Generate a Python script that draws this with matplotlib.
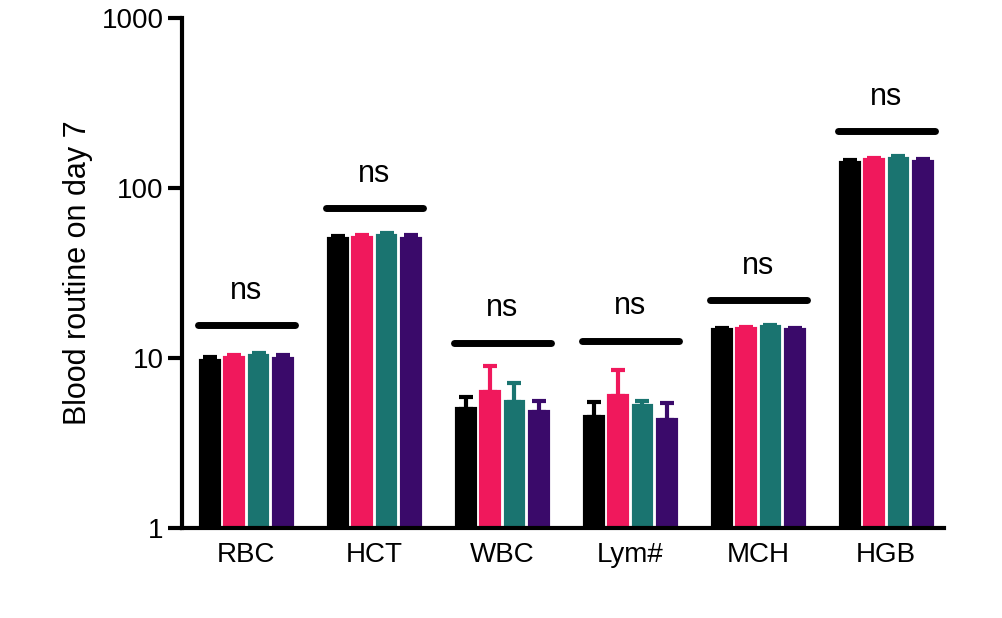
import matplotlib.pyplot as plt
import numpy as np

plt.rcParams['font.family'] = ['Liberation Sans', 'DejaVu Sans']

categories = ['RBC', 'HCT', 'WBC', 'Lym#', 'MCH', 'HGB']
means = {
    'g1': [9.6, 50, 5.0, 4.5, 14.5, 140],
    'g2': [10.0, 51, 6.3, 6.0, 14.8, 145],
    'g3': [10.2, 52, 5.5, 5.2, 15.2, 148],
    'g4': [9.8, 50, 4.8, 4.3, 14.6, 142],
}
errs = {
    'g1': [0.5, 2, 0.9, 1.0, 0.4, 6],
    'g2': [0.4, 2, 2.7, 2.5, 0.3, 4],
    'g3': [0.5, 2, 1.6, 0.4, 0.5, 6],
    'g4': [0.6, 3, 0.8, 1.1, 0.4, 6],
}
sig_y = [15.6, 76, 12.3, 12.6, 21.9, 215]
colors = ['#000000', '#F0185C', '#1A7470', '#3A0A6A']

fig = plt.figure(figsize=(10.02, 6.18), dpi=100)
ax = fig.add_axes([0.182, 0.146, 0.76, 0.825])
ax.set_yscale('log')
ax.set_ylim(1, 1000)

x = np.arange(len(categories)) * 1.0
w = 0.19
offs = [-1.5, -0.5, 0.5, 1.5]
for k, (key, c) in enumerate(zip(means, colors)):
    xs = x + offs[k] * w
    m = np.array(means[key])
    ax.bar(xs, m - 1, width=w * 0.72, bottom=1, color=c, edgecolor=c, linewidth=3)
    ax.errorbar(xs, m, yerr=[np.zeros(6), errs[key]], fmt='none',
                ecolor=c, elinewidth=3, capsize=5, capthick=3)

for i, y in enumerate(sig_y):
    ax.plot([x[i] - 2 * w, x[i] + 2 * w], [y, y], color='black', lw=5, solid_capstyle='round')
    ax.text(x[i], y * 1.3, 'ns', ha='center', va='bottom', fontsize=22)

ax.set_xlim(-0.5, 5.45)
ax.set_xticks(x)
ax.set_xticklabels(categories, fontsize=20)
ax.set_yticks([1, 10, 100, 1000])
ax.set_yticklabels(['1', '10', '100', '1000'], fontsize=20)
ax.minorticks_off()
ax.tick_params(axis='x', length=0, pad=10)
ax.tick_params(axis='y', width=3, length=10)
ax.set_ylabel('Blood routine on day 7', fontsize=22, labelpad=6)
for s in ['top', 'right']:
    ax.spines[s].set_visible(False)
for s in ['left', 'bottom']:
    ax.spines[s].set_linewidth(3)

fig.savefig('out.png', dpi=100)
